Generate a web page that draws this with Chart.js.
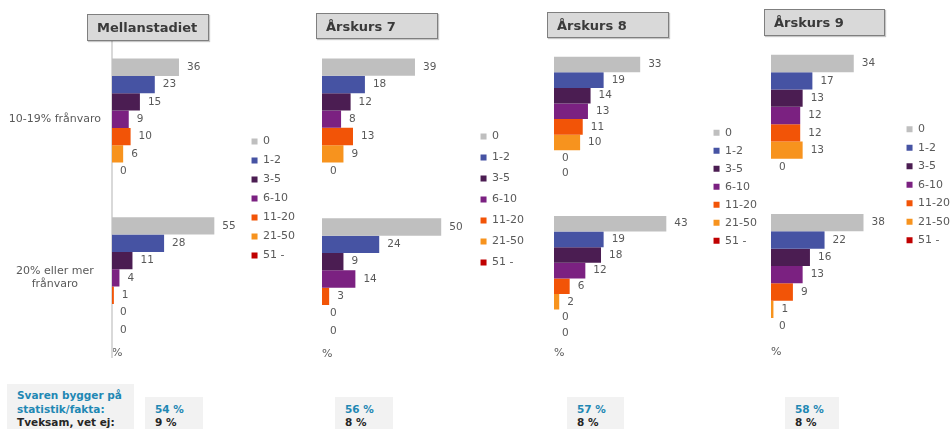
<!DOCTYPE html>
<html><head><meta charset="utf-8">
<script src="https://cdn.jsdelivr.net/npm/chart.js@4"></script>
<style>
html,body{margin:0;padding:0;width:950px;height:429px;overflow:hidden;background:#fff;font-family:'DejaVu Sans',sans-serif;}
.pane{position:absolute;top:0;}
.ttl{position:absolute;box-sizing:border-box;background:#d9d9d9;border:1px solid #7f7f7f;box-shadow:1px 1px 1px rgba(0,0,0,0.22);font-weight:bold;font-size:13px;color:#3a3a3a;padding-left:9px;display:flex;align-items:center;white-space:nowrap;}
.fbox{position:absolute;background:#f2f2f2;box-sizing:border-box;font-weight:bold;font-size:10.5px;line-height:13.5px;padding-left:10px;white-space:nowrap;}
.blue{color:#1f88b4}.dark{color:#262626}
</style></head><body>
<script>
// ---- data ----
const categories = ['10-19% frånvaro', ['20% eller mer', 'frånvaro']];
const seriesLabels = ['0', '1-2', '3-5', '6-10', '11-20', '21-50', '51 -'];
const panelTitles = ['Mellanstadiet', 'Årskurs 7', 'Årskurs 8', 'Årskurs 9'];
const mellanTop = [36, 23, 15, 9, 10, 6, 0];
const mellanBottom = [55, 28, 11, 4, 1, 0, 0];
const ak7Top = [39, 18, 12, 8, 13, 9, 0];
const ak7Bottom = [50, 24, 9, 14, 3, 0, 0];
const ak8Top = [33, 19, 14, 13, 11, 10, 0, 0];
const ak8Bottom = [43, 19, 18, 12, 6, 2, 0, 0];
const ak9Top = [34, 17, 13, 12, 12, 13, 0];
const ak9Bottom = [38, 22, 16, 13, 9, 1, 0];
const footerLabel1 = ['Svaren bygger på', 'statistik/fakta:'];
const footerLabel2 = 'Tveksam, vet ej:';
const statistikShare = ['54 %', '56 %', '57 %', '58 %'];
const tveksamShare = ['9 %', '8 %', '8 %', '8 %'];
const axisUnit = '%';

// ---- styles / layout ----
const seriesColors = ['#bfbfbf', '#4653a3', '#4b1d52', '#7b2181', '#f25407', '#f7931e', '#c00000', 'rgba(0,0,0,0)'];
const FONT = 'DejaVu Sans';
const TXT = '#595959';
const H = 400;
const panels = [
  {top: mellanTop, bottom: mellanBottom, left: 0, width: 305, yWidth: 112, showY: true,
   cTop: 39.9, cBottom: 357.3, legBottom: 397, pctY: 353.3, cat: 0.765, max: 70.7, legPad: 8,
   t: {x: 87, y: 14, w: 122, h: 27}, f: {x: 145, w: 58}},
  {top: ak7Top, bottom: ak7Bottom, left: 322, width: 212, yWidth: 0, showY: false,
   cTop: 39.3, cBottom: 358.9, legBottom: 399, pctY: 354, cat: 0.76, max: 62.3, legPad: 10,
   t: {x: 316, y: 13, w: 122, h: 26}, f: {x: 335, w: 58}},
  {top: ak8Top, bottom: ak8Bottom, left: 554, width: 213, yWidth: 0, showY: false,
   cTop: 39.45, cBottom: 358.05, legBottom: 373.4, pctY: 353.3, cat: 0.784, max: 58.4, legPad: 7,
   t: {x: 547, y: 12, w: 122, h: 26}, f: {x: 567, w: 57}},
  {top: ak9Top, bottom: ak9Bottom, left: 771, width: 189, yWidth: 0, showY: false,
   cTop: 35.9, cBottom: 354.3, legBottom: 369.4, pctY: 352.3, cat: 0.762, max: 52.6, legPad: 7.5,
   t: {x: 764, y: 9, w: 121, h: 27}, f: {x: 785, w: 54}}
];

const valueLabels = {
  id: 'valueLabels',
  afterDatasetsDraw(chart) {
    const ctx = chart.ctx;
    ctx.save();
    ctx.font = '10.5px "' + FONT + '"';
    ctx.fillStyle = TXT;
    ctx.textAlign = 'left';
    ctx.textBaseline = 'middle';
    chart.data.datasets.forEach((ds, di) => {
      const meta = chart.getDatasetMeta(di);
      meta.data.forEach((el, i) => {
        ctx.fillText(String(ds.data[i]), el.x + 8, el.y);
      });
    });
    ctx.restore();
  }
};

panels.forEach((p, k) => {
  const div = document.createElement('div');
  div.className = 'pane';
  div.style.left = p.left + 'px';
  div.style.width = p.width + 'px';
  div.style.height = H + 'px';
  const cv = document.createElement('canvas');
  cv.width = p.width; cv.height = H;
  cv.style.width = p.width + 'px'; cv.style.height = H + 'px';
  div.appendChild(cv);
  document.body.appendChild(div);

  const n = p.top.length;
  const datasets = [];
  for (let s = 0; s < n; s++) {
    datasets.push({
      label: s < seriesLabels.length ? seriesLabels[s] : '',
      data: [p.top[s], p.bottom[s]],
      backgroundColor: seriesColors[s],
      borderWidth: 0,
      xAxisID: 'x', yAxisID: 'y',
      barPercentage: 1,
      categoryPercentage: p.cat
    });
  }

  new Chart(cv, {
    type: 'bar',
    data: {labels: categories, datasets},
    plugins: [valueLabels],
    options: {
      indexAxis: 'y',
      responsive: false,
      animation: false,
      devicePixelRatio: 1,
      layout: {padding: {top: 0, left: 0, right: 0, bottom: H - p.legBottom}},
      plugins: {
        tooltip: {enabled: false},
        legend: {
          position: 'right',
          align: 'center',
          labels: {
            boxWidth: 6, boxHeight: 6, padding: p.legPad, color: TXT,
            font: {family: FONT, size: 11},
            filter: item => item.text !== ''
          }
        }
      },
      scales: {
        x: {
          type: 'linear', position: 'bottom', min: 0, max: p.max,
          grid: {display: false, drawTicks: false},
          border: {display: false},
          ticks: {display: false},
          title: {display: true, text: axisUnit, align: 'start', color: TXT,
                  font: {family: FONT, size: 11},
                  padding: {top: 0, bottom: p.legBottom - p.pctY - 6.6}},
          afterFit: s => { s.height = p.legBottom - p.cBottom; }
        },
        xt: {
          type: 'linear', position: 'top', display: true,
          grid: {display: false, drawTicks: false},
          border: {display: false},
          ticks: {display: false},
          afterFit: s => { s.height = p.cTop; }
        },
        y: {
          type: 'category', display: p.showY, offset: true,
          grid: {display: false, drawTicks: false},
          border: {display: p.showY, color: '#d9d9d9', width: 2},
          ticks: {color: TXT, font: {family: FONT, size: 11}, padding: 11, crossAlign: 'center'},
          afterFit: s => { if (p.showY) s.width = p.yWidth; }
        }
      }
    }
  });

  const t = document.createElement('div');
  t.className = 'ttl';
  t.style.left = p.t.x + 'px'; t.style.top = p.t.y + 'px';
  t.style.width = p.t.w + 'px'; t.style.height = p.t.h + 'px';
  t.textContent = panelTitles[k];
  document.body.appendChild(t);

  const f = document.createElement('div');
  f.className = 'fbox';
  f.style.left = p.f.x + 'px'; f.style.top = '397px';
  f.style.width = p.f.w + 'px'; f.style.height = '32px';
  f.style.paddingTop = '5.75px';
  f.innerHTML = '<div class="blue"></div><div class="dark"></div>';
  f.children[0].textContent = statistikShare[k];
  f.children[1].textContent = tveksamShare[k];
  document.body.appendChild(f);
});

const fb = document.createElement('div');
fb.className = 'fbox';
fb.style.left = '7px'; fb.style.top = '384px'; fb.style.width = '127px'; fb.style.height = '45px';
fb.style.paddingTop = '5.25px';
fb.innerHTML = '<div class="blue"></div><div class="blue"></div><div class="dark"></div>';
fb.children[0].textContent = footerLabel1[0];
fb.children[1].textContent = footerLabel1[1];
fb.children[2].textContent = footerLabel2;
document.body.appendChild(fb);
</script>
</body></html>
